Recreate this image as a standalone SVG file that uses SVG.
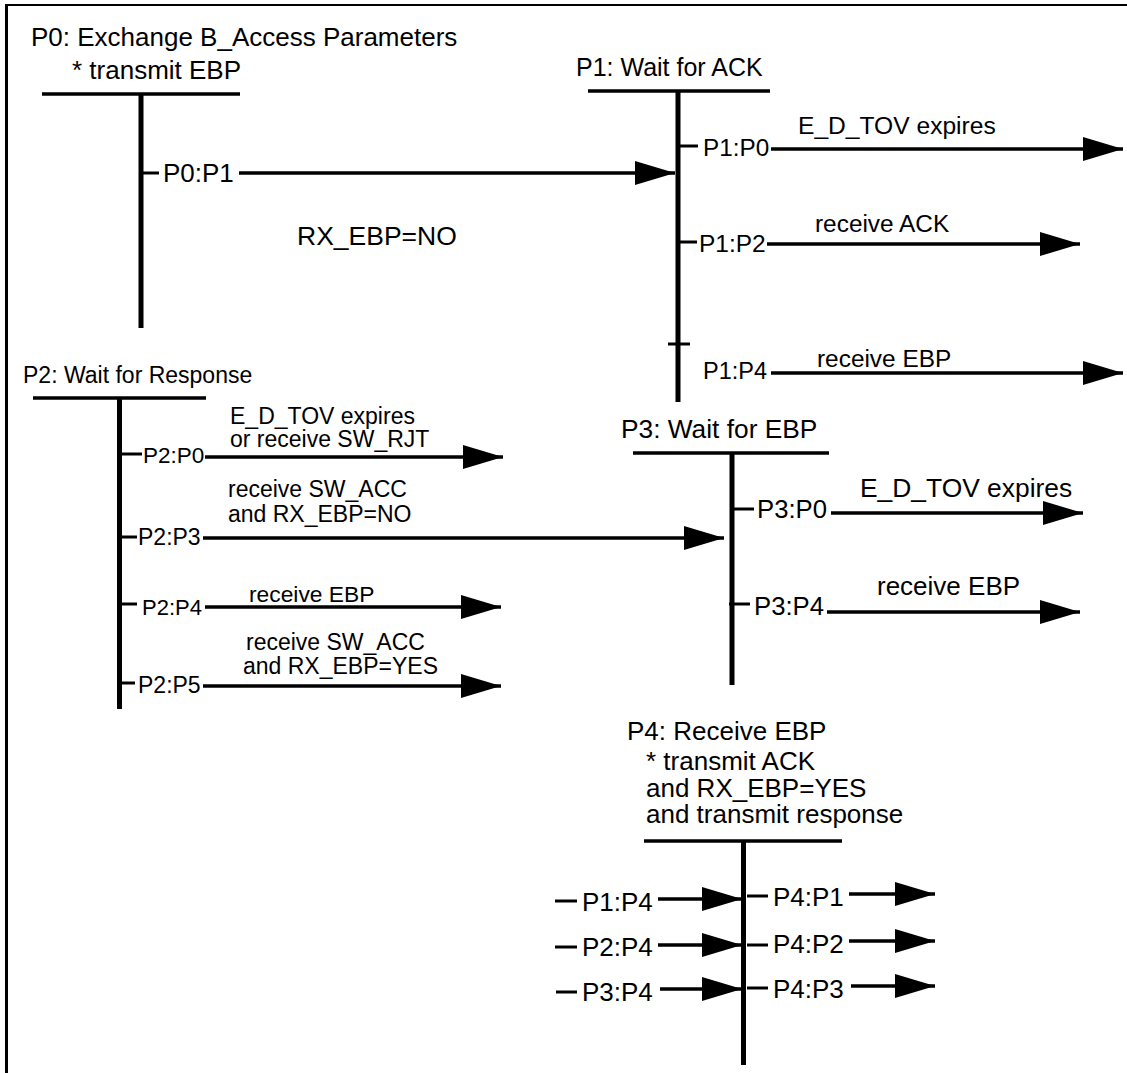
<svg xmlns="http://www.w3.org/2000/svg" width="1127" height="1073" viewBox="0 0 1127 1073">
<style>
text{font-family:"Liberation Sans",Arial,sans-serif;fill:#000}
.bar{stroke:#000;stroke-width:3.5;fill:none}
.v{stroke:#000;stroke-width:5;fill:none}
.tk{stroke:#000;stroke-width:3;fill:none}
.c{stroke:#000;stroke-width:3.5;fill:none;marker-end:url(#ah)}
</style>
<defs>
<marker id="ah" markerUnits="userSpaceOnUse" markerWidth="42" markerHeight="26" refX="40" refY="12" orient="auto">
<path d="M0,0 L40,12 L0,24 Z" fill="#000"/>
</marker>
</defs>
<rect width="1127" height="1073" fill="#fff"/>
<g id="frame">
<line x1="6.5" y1="4" x2="6.5" y2="1073" stroke="#000" stroke-width="3"/>
<line x1="5" y1="5" x2="1127" y2="5" stroke="#000" stroke-width="2"/>
</g>
<g id="P0">
<text x="31" y="46" font-size="26">P0: Exchange B_Access Parameters</text>
<text x="72" y="79" font-size="26">* transmit EBP</text>
<line class="bar" x1="42" y1="94" x2="240" y2="94"/>
<line class="v" x1="141" y1="94" x2="141" y2="328"/>
<line class="tk" x1="143" y1="173" x2="159" y2="173"/>
<text x="163" y="182" font-size="26">P0:P1</text>
</g>
<g id="P1">
<text x="576" y="76" font-size="25">P1: Wait for ACK</text>
<line class="bar" x1="588" y1="91" x2="770" y2="91"/>
<line class="v" x1="678" y1="91" x2="678" y2="402"/>
<line class="tk" x1="680" y1="146" x2="698" y2="146"/>
<text x="703" y="156" font-size="24.3">P1:P0</text>
<line class="tk" x1="676" y1="242" x2="697" y2="242"/>
<text x="699" y="252" font-size="24.5">P1:P2</text>
<line class="tk" x1="668" y1="344" x2="690" y2="344"/>
<text x="703" y="379" font-size="23.5">P1:P4</text>
</g>
<g id="P2">
<text x="23" y="383" font-size="23">P2: Wait for Response</text>
<line class="bar" x1="33" y1="398" x2="206" y2="398"/>
<line class="v" x1="119.5" y1="397" x2="119.5" y2="709"/>
<line class="tk" x1="122" y1="454" x2="142" y2="454"/>
<text x="143" y="463" font-size="22.5">P2:P0</text>
<line class="tk" x1="117" y1="537" x2="137" y2="537"/>
<text x="138" y="545" font-size="23">P2:P3</text>
<line class="tk" x1="117" y1="604" x2="137" y2="604"/>
<text x="142" y="615" font-size="22">P2:P4</text>
<line class="tk" x1="117" y1="683" x2="135" y2="683"/>
<text x="138" y="693" font-size="23">P2:P5</text>
</g>
<g id="P3">
<text x="621" y="438" font-size="26.3">P3: Wait for EBP</text>
<line class="bar" x1="633" y1="453" x2="829" y2="453"/>
<line class="v" x1="732" y1="453" x2="732" y2="685"/>
<line class="tk" x1="733" y1="509" x2="754" y2="509"/>
<text x="757" y="518" font-size="25.7">P3:P0</text>
<line class="tk" x1="729" y1="604" x2="750" y2="604"/>
<text x="754" y="615" font-size="25.7">P3:P4</text>
</g>
<g id="P4">
<text x="627" y="740" font-size="26">P4: Receive EBP</text>
<text x="646" y="770" font-size="26">* transmit ACK</text>
<text x="646" y="797" font-size="26">and RX_EBP=YES</text>
<text x="646" y="823" font-size="26">and transmit response</text>
<line class="bar" x1="644" y1="841" x2="842" y2="841"/>
<line class="v" x1="743.5" y1="840" x2="743.5" y2="1065"/>
<line class="tk" x1="555" y1="901" x2="577" y2="901"/>
<text x="582" y="911" font-size="26">P1:P4</text>
<line class="tk" x1="555" y1="947" x2="577" y2="947"/>
<text x="582" y="956" font-size="26">P2:P4</text>
<line class="tk" x1="556" y1="992" x2="577" y2="992"/>
<text x="582" y="1001" font-size="26">P3:P4</text>
<line class="tk" x1="747" y1="896" x2="768" y2="896"/>
<text x="773" y="906" font-size="26">P4:P1</text>
<line class="tk" x1="747" y1="945" x2="768" y2="945"/>
<text x="773" y="953" font-size="26">P4:P2</text>
<line class="tk" x1="747" y1="988" x2="768" y2="988"/>
<text x="773" y="998" font-size="26">P4:P3</text>
</g>
<g id="connectors">
<line class="c" x1="239" y1="173" x2="675" y2="173"/>
<text x="297" y="245" font-size="26.5">RX_EBP=NO</text>
<line class="c" x1="771" y1="149" x2="1123" y2="149"/>
<text x="798" y="134" font-size="24.6">E_D_TOV expires</text>
<line class="c" x1="767" y1="244" x2="1080" y2="244"/>
<text x="815" y="232" font-size="24.4">receive ACK</text>
<line class="c" x1="771" y1="373" x2="1123" y2="373"/>
<text x="817" y="367" font-size="24.4">receive EBP</text>
<line class="c" x1="205" y1="457" x2="503" y2="457"/>
<text x="230" y="424" font-size="23">E_D_TOV expires</text>
<text x="230" y="447" font-size="23">or receive SW_RJT</text>
<line class="c" x1="203" y1="538" x2="724" y2="538"/>
<text x="228" y="497" font-size="23">receive SW_ACC</text>
<text x="228" y="522" font-size="23">and RX_EBP=NO</text>
<line class="c" x1="205" y1="607" x2="501" y2="607"/>
<text x="249" y="602" font-size="22.8">receive EBP</text>
<line class="c" x1="203" y1="686" x2="501" y2="686"/>
<text x="246" y="650" font-size="23">receive SW_ACC</text>
<text x="243" y="674" font-size="23">and RX_EBP=YES</text>
<line class="c" x1="831" y1="513" x2="1083" y2="513"/>
<text x="860" y="497" font-size="26.4">E_D_TOV expires</text>
<line class="c" x1="827" y1="612" x2="1080" y2="612"/>
<text x="877" y="595" font-size="26">receive EBP</text>
<line class="c" x1="658" y1="899" x2="742" y2="899"/>
<line class="c" x1="658" y1="945" x2="742" y2="945"/>
<line class="c" x1="660" y1="989" x2="742" y2="989"/>
<line class="c" x1="849" y1="894" x2="935" y2="894"/>
<line class="c" x1="849" y1="941" x2="935" y2="941"/>
<line class="c" x1="851" y1="986" x2="935" y2="986"/>
</g>
</svg>
